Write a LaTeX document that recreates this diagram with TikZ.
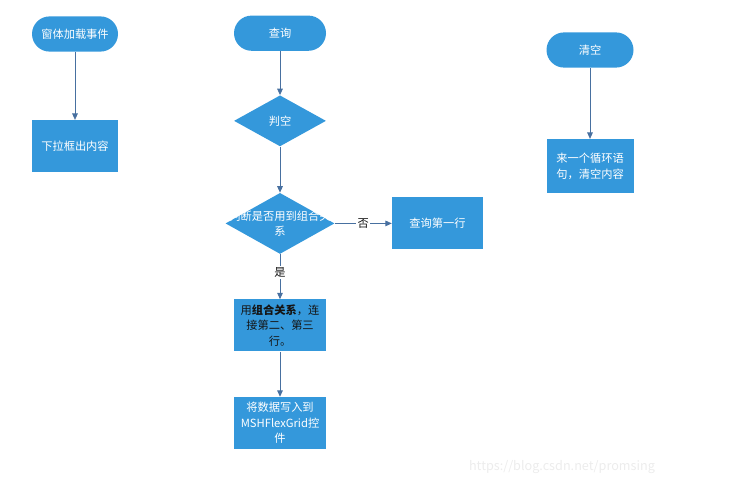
\documentclass[tikz,border=0pt]{standalone}
\usepackage{fontspec}
\setmainfont{Noto Sans CJK SC}
\usepackage{tikz}
\usetikzlibrary{positioning,arrows.meta,shapes.geometric}
\definecolor{FlowBlue}{RGB}{52,152,219}
\definecolor{LineBlue}{RGB}{72,112,160}
\definecolor{DarkText}{RGB}{20,20,20}

\begin{document}
\begin{tikzpicture}[
    font=\fontsize{8}{11}\selectfont,
    term/.style={rectangle, rounded corners=0.44cm, fill=FlowBlue, text=white,
        minimum width=2.2cm, minimum height=0.88cm, inner sep=1pt},
    box/.style={rectangle, fill=FlowBlue, text=white, align=center,
        minimum width=2.3cm, minimum height=1.3cm, inner sep=1pt},
    check/.style={diamond, fill=FlowBlue, text=white, inner sep=0pt},
    arr/.style={-{Triangle[length=1.6mm, width=1.4mm]}, semithick, LineBlue},
    lbl/.style={fill=white, text=DarkText, inner sep=1pt},
]
\useasboundingbox (0,0) rectangle (18.8,-12.425);

% left column
\node[term, minimum width=2.15cm] (load) at (1.875,-0.85) {窗体加载事件};
\node[box, minimum width=2.15cm, below=1.7cm of load] (drop) {下拉框出内容};

% middle column
\node[term, minimum width=2.3cm] (query) at (7.0,-0.83) {查询};
\node[check, minimum width=2.3cm, minimum height=1.275cm, below=1.1cm of query] (empty) {判空};
\node[check, minimum width=2.725cm, minimum height=1.525cm, below=1.15cm of empty,
    label={[text=white, align=center]center:判断是否用到组合关\\系}] (combo) {};
\node[box, minimum width=2.275cm, right=1.425cm of combo] (first) {查询第一行};
\node[box, text=DarkText, below=1.125cm of combo] (join) {用\textbf{组合关系}，连\\接第二、第三\\行。};
\node[box, below=1.125cm of join] (grid) {将数据写入到\\MSHFlexGrid控\\件};

% right column
\node[term, minimum width=2.175cm] (clear) at (14.75,-1.25) {清空};
\node[box, minimum width=2.175cm, minimum height=1.35cm, below=1.775cm of clear] (loop) {来一个循环语\\句，清空内容};

\draw[arr] (load) -- (drop);
\draw[arr] (query) -- (empty);
\draw[arr] (empty) -- (combo);
\draw[arr] (combo) -- node[lbl] {否} (first);
\draw[arr] (combo) -- node[lbl, pos=0.4] {是} (join);
\draw[arr] (join) -- (grid);
\draw[arr] (clear) -- (loop);

\node[text=gray!15, font=\fontsize{9}{11}\selectfont] (mark) at (14.05,-11.68) {https://blog.csdn.net/promsing};
\end{tikzpicture}
\end{document}
